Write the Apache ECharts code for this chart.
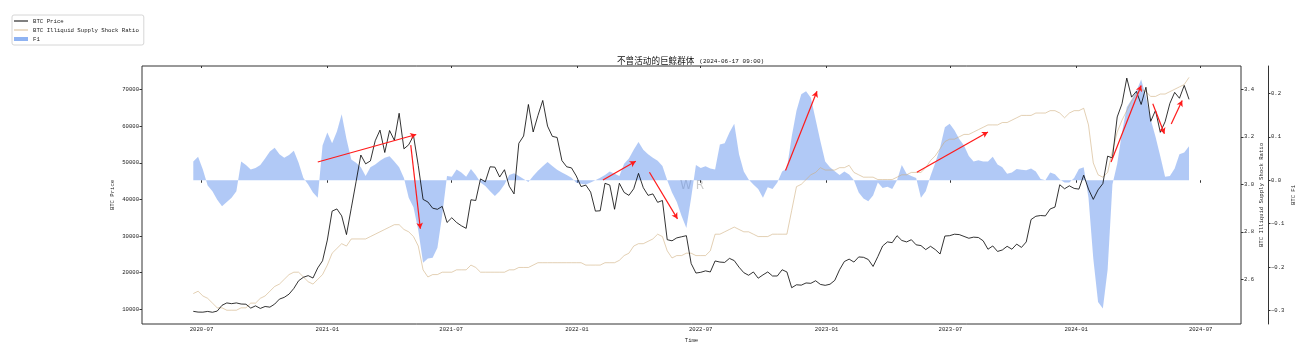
<!DOCTYPE html>
<html>
<head>
<meta charset="utf-8">
<script src="https://cdn.jsdelivr.net/npm/echarts@6/dist/echarts.min.js"></script>
<style>
html,body{margin:0;padding:0;background:#fff;}
#chart{width:1306px;height:352px;}
</style>
</head>
<body>
<div id="chart"></div>
<script>
// ---------------- DATA ----------------
const startDate = '2020-06-19';
const stepDays = 7;

const btcPrice = [
  9450, 9250, 9230, 9430, 9200, 9530, 11100, 11750, 11550, 11750,
  11450, 11400, 10340, 10950, 10250, 10780, 10600, 11430, 12800, 13270,
  14150, 15700, 17800, 18750, 19200, 18540, 21300, 23250, 28900, 36800,
  37400, 35500, 30400, 37600, 44800, 52100, 49700, 50500, 56000, 58900,
  52800, 58800, 56100, 63500, 53800, 54900, 57400, 49200, 40000, 39300,
  37600, 37300, 38100, 33700, 35000, 33700, 32800, 32100, 39900, 39700,
  45600, 44800, 48900, 48800, 46100, 48100, 43600, 41500, 55300, 57300,
  65900, 58400, 62900, 67000, 60000, 57200, 56900, 50600, 48900, 48600,
  46400, 43500, 43900, 42000, 36800, 36900, 44400, 43900, 37300, 44400,
  41900, 41100, 42900, 47100, 43200, 41100, 41500, 39200, 39700, 29000,
  28700, 29500, 29800, 30100, 22500, 19900, 20100, 20500, 20200, 23200,
  22900, 22800, 23900, 23300, 21500, 20000, 19300, 20200, 18500, 19400,
  20200, 19100, 19100, 20800, 20200, 15900, 16700, 16600, 17200, 17100,
  17800, 16800, 16550, 16850, 17900, 20800, 23050, 23700, 22900, 24300,
  24200, 23600, 21700, 24400, 27300, 28400, 28200, 30100, 28800, 28400,
  29000, 27600, 27400, 26300, 27200, 26300, 25100, 30000, 30100, 30500,
  30400, 29900, 29400, 29700, 29600, 28700, 26400, 27300, 25800, 26200,
  27200, 26400, 27800, 26900, 28400, 34500, 35400, 35600, 35500, 37400,
  37900, 44000, 42900, 43700, 43000, 42800, 46600, 42800, 40000, 42600,
  44300, 51800, 51300, 62500, 66100, 73100, 67900, 69500, 65900, 70600,
  61300, 64300, 58300, 61200, 66200, 69200, 67600, 71100, 67300
];

const shockRatio = [
  2.54, 2.55, 2.53, 2.52, 2.50, 2.48, 2.48, 2.47, 2.47, 2.47,
  2.48, 2.48, 2.50, 2.50, 2.52, 2.53, 2.55, 2.57, 2.58, 2.60,
  2.62, 2.63, 2.63, 2.61, 2.59, 2.58, 2.60, 2.62, 2.66, 2.71,
  2.73, 2.75, 2.74, 2.77, 2.77, 2.77, 2.77, 2.78, 2.79, 2.80,
  2.81, 2.82, 2.83, 2.83, 2.81, 2.80, 2.78, 2.74, 2.64, 2.61,
  2.62, 2.62, 2.63, 2.63, 2.63, 2.64, 2.64, 2.64, 2.66, 2.65,
  2.63, 2.63, 2.63, 2.63, 2.63, 2.63, 2.64, 2.64, 2.65, 2.65,
  2.65, 2.66, 2.67, 2.67, 2.67, 2.67, 2.67, 2.67, 2.67, 2.67,
  2.67, 2.67, 2.66, 2.66, 2.66, 2.66, 2.67, 2.67, 2.67, 2.68,
  2.70, 2.71, 2.74, 2.75, 2.75, 2.76, 2.77, 2.79, 2.78, 2.72,
  2.69, 2.70, 2.70, 2.71, 2.71, 2.70, 2.70, 2.70, 2.72, 2.79,
  2.79, 2.80, 2.81, 2.82, 2.81, 2.80, 2.80, 2.79, 2.78, 2.78,
  2.78, 2.79, 2.79, 2.79, 2.79, 2.89, 2.99, 3.00, 3.02, 3.04,
  3.05, 3.07, 3.06, 3.06, 3.06, 3.07, 3.07, 3.08, 3.05, 3.04,
  3.03, 3.03, 3.03, 3.02, 3.02, 3.02, 3.02, 3.03, 3.04, 3.04,
  3.05, 3.05, 3.05, 3.07, 3.10, 3.12, 3.15, 3.18, 3.19, 3.19,
  3.20, 3.21, 3.21, 3.22, 3.23, 3.24, 3.25, 3.25, 3.25, 3.26,
  3.26, 3.27, 3.28, 3.29, 3.29, 3.29, 3.30, 3.30, 3.30, 3.31,
  3.31, 3.30, 3.28, 3.30, 3.31, 3.31, 3.32, 3.25, 3.09, 3.04,
  3.03, 3.05, 3.14, 3.22, 3.27, 3.31, 3.35, 3.38, 3.40, 3.39,
  3.37, 3.37, 3.38, 3.38, 3.39, 3.40, 3.41, 3.42, 3.45
];

const f1Values = [
  0.043, 0.054, 0.025, -0.012, -0.025, -0.045, -0.060, -0.050, -0.040, -0.025,
  0.043, 0.035, 0.025, 0.028, 0.035, 0.050, 0.066, 0.075, 0.060, 0.052,
  0.058, 0.068, 0.040, 0.005, -0.010, -0.028, -0.040, 0.080, 0.110, 0.085,
  0.112, 0.152, 0.095, 0.048, 0.040, 0.030, 0.010, 0.030, 0.036, 0.045,
  0.052, 0.055, 0.043, 0.030, 0.005, -0.040, -0.062, -0.115, -0.190, -0.180,
  -0.178, -0.155, -0.080, 0.010, 0.008, 0.025, 0.018, 0.008, 0.026, 0.012,
  -0.005, -0.013, -0.025, -0.036, -0.025, -0.010, 0.012, 0.016, 0.010, 0.003,
  -0.004, 0.010, 0.022, 0.032, 0.042, 0.033, 0.024, 0.018, 0.012, 0.006,
  -0.006, -0.008, -0.010, -0.005, 0.000, 0.006, 0.012, 0.020, 0.015, 0.010,
  0.038, 0.050, 0.070, 0.088, 0.070, 0.060, 0.052, 0.045, 0.033, 0.000,
  -0.028, -0.050, -0.082, -0.110, -0.040, 0.035, 0.028, 0.032, 0.027, 0.025,
  0.082, 0.085, 0.110, 0.130, 0.060, 0.020, 0.002, -0.010, -0.020, -0.040,
  -0.016, -0.020, -0.005, 0.020, 0.027, 0.100, 0.160, 0.198, 0.205, 0.190,
  0.140, 0.090, 0.043, 0.030, 0.021, 0.012, 0.020, 0.013, 0.000, -0.028,
  -0.042, -0.048, -0.035, -0.005, -0.018, -0.015, -0.020, 0.000, 0.035, 0.015,
  0.010, 0.005, -0.040, -0.025, 0.010, 0.040, 0.075, 0.122, 0.130, 0.115,
  0.095, 0.080, 0.056, 0.043, 0.046, 0.043, 0.043, 0.054, 0.036, 0.030,
  0.015, 0.018, 0.026, 0.024, 0.023, 0.027, 0.020, 0.003, 0.000, 0.018,
  0.014, 0.002, -0.005, -0.005, 0.005, 0.026, 0.030, -0.040, -0.180, -0.280,
  -0.295, -0.205, -0.010, 0.038, 0.110, 0.168, 0.186, 0.205, 0.232, 0.192,
  0.140, 0.100, 0.055, 0.008, 0.010, 0.027, 0.060, 0.064, 0.078
];

// annotation arrows: start and end points [date, price]
const arrowStarts = [
  ['2020-12-18', 50200], ['2021-05-03', 54800], ['2022-02-08', 45300],
  ['2022-04-17', 47400], ['2022-11-02', 47900], ['2023-05-13', 47400],
  ['2024-02-21', 50200], ['2024-04-22', 66100], ['2024-05-19', 60600]
];
const arrowEnds = [
  ['2021-05-11', 57700], ['2021-05-17', 32000], ['2022-03-28', 50400],
  ['2022-05-28', 34700], ['2022-12-18', 69500], ['2023-08-25', 58400],
  ['2024-04-05', 71100], ['2024-05-09', 57900], ['2024-06-04', 67000]
];

const xTickLabels = ['2020-07','2021-01','2021-07','2022-01','2022-07','2023-01','2023-07','2024-01','2024-07'];
const priceTicks = [10000, 20000, 30000, 40000, 50000, 60000, 70000];
const ratioTicks = [2.6, 2.8, 3.0, 3.2, 3.4];
const f1Ticks = [-0.3, -0.2, -0.1, 0.0, 0.1, 0.2];

const titleMain = '不曾活动的巨鲸群体';
const titleTime = '(2024-06-17 09:00)';

// ---------------- BUILD ----------------
function ts(s) {
  const p = s.split('-').map(Number);
  return new Date(p[0], p[1] - 1, p[2] || 1).getTime();
}
const DAY = 86400000;
const t0 = ts(startDate);
const dates = btcPrice.map((_, i) => t0 + i * stepDays * DAY);
const pair = arr => arr.map((v, i) => [dates[i], v]);
const xTickValues = xTickLabels.map(s => ts(s + '-01'));

const MONO = '"Liberation Mono", "DejaVu Sans Mono", monospace';
const TXT = '#222';
const AX = '#333';
const fs = 5.6;

function fmtDate(v) {
  const d = new Date(v);
  const m = d.getMonth() + 1;
  return d.getFullYear() + '-' + (m < 10 ? '0' + m : m);
}

const arrowData = arrowStarts.map((s, i) => [
  { coord: [ts(s[0]), s[1]] },
  { coord: [ts(arrowEnds[i][0]), arrowEnds[i][1]] }
]);

const chart = echarts.init(document.getElementById('chart'), null, { renderer: 'canvas' });

const lineIcon = 'path://M0,0H14V1H0Z';
const rectIcon = 'path://M0,0H14V4H0Z';

const xMin = ts('2020-04-05');
const xMax = ts('2024-08-29');
const nameStyle = { fontFamily: MONO, fontSize: fs, color: TXT };

const option = {
  animation: false,
  backgroundColor: '#fff',
  title: {
    text: '{a|' + titleMain + '} {b|' + titleTime + '}',
    left: 617,
    top: 52,
    padding: 0,
    textStyle: {
      fontWeight: 'normal',
      rich: {
        a: { fontFamily: '"Noto Sans CJK SC"', fontSize: 8.6, fontWeight: 'normal', color: '#111' },
        b: { fontFamily: MONO, fontSize: 6, fontWeight: 'normal', color: '#111' }
      }
    }
  },
  legend: {
    orient: 'vertical',
    left: 12,
    top: 15,
    padding: [3, 5, 3, 2],
    itemWidth: 14,
    itemHeight: 6,
    itemGap: 3,
    borderColor: '#d6d6d6',
    borderWidth: 1,
    borderRadius: 2,
    textStyle: { fontFamily: MONO, fontSize: 5.7, color: TXT },
    data: [
      { name: 'BTC Price', icon: lineIcon },
      { name: 'BTC Illiquid Supply Shock Ratio', icon: lineIcon },
      { name: 'F1', icon: rectIcon }
    ]
  },
  grid: {
    left: 142, right: 65, top: 66, bottom: 28,
    show: true, borderColor: AX, borderWidth: 1, backgroundColor: 'transparent'
  },
  xAxis: [
    {
      type: 'value',
      min: xMin,
      max: xMax,
      position: 'bottom',
      axisLine: { show: false },
      axisTick: { show: true, length: 2.5, lineStyle: { color: AX }, customValues: xTickValues },
      axisLabel: { customValues: xTickValues, formatter: fmtDate, fontFamily: MONO, fontSize: fs, color: TXT, margin: 3 },
      splitLine: { show: false },
      name: 'Time',
      nameLocation: 'middle',
      nameGap: 14,
      nameMoveOverlap: false,
      nameTextStyle: nameStyle
    },
    {
      type: 'value',
      min: xMin,
      max: xMax,
      position: 'top',
      axisLine: { show: false },
      axisTick: { show: true, inside: true, length: 2, lineStyle: { color: AX }, customValues: xTickValues },
      axisLabel: { show: false, customValues: xTickValues },
      splitLine: { show: false }
    }
  ],
  yAxis: [
    {
      type: 'value',
      position: 'left',
      min: 6000,
      max: 76400,
      axisLine: { show: false },
      axisTick: { show: true, length: 2.5, lineStyle: { color: AX }, customValues: priceTicks },
      axisLabel: { customValues: priceTicks, formatter: v => String(v), fontFamily: MONO, fontSize: fs, color: TXT, margin: 3 },
      splitLine: { show: false },
      name: 'BTC Price',
      nameLocation: 'middle',
      nameRotate: 90,
      nameGap: 26,
      nameMoveOverlap: false,
      nameTextStyle: nameStyle
    },
    {
      type: 'value',
      position: 'right',
      min: 2.412,
      max: 3.498,
      axisLine: { show: false },
      axisTick: { show: true, length: 2.5, lineStyle: { color: AX }, customValues: ratioTicks },
      axisLabel: { customValues: ratioTicks, formatter: v => v.toFixed(1), fontFamily: MONO, fontSize: fs, color: TXT, margin: 3 },
      splitLine: { show: false },
      name: 'BTC Illiquid Supply Shock Ratio',
      nameLocation: 'middle',
      nameRotate: 90,
      nameGap: 17.5,
      nameMoveOverlap: false,
      nameTextStyle: nameStyle
    },
    {
      type: 'value',
      position: 'right',
      offset: 27,
      min: -0.3306,
      max: 0.2628,
      axisLine: { show: true, lineStyle: { color: AX, width: 1 } },
      axisTick: { show: true, length: 2.5, lineStyle: { color: AX }, customValues: f1Ticks },
      axisLabel: { customValues: f1Ticks, formatter: v => v.toFixed(1).replace('-', '\u2212'), fontFamily: MONO, fontSize: fs, color: TXT, margin: 3 },
      splitLine: { show: false },
      name: 'BTC F1',
      nameLocation: 'middle',
      nameRotate: 90,
      nameGap: 23,
      nameMoveOverlap: false,
      nameTextStyle: nameStyle
    }
  ],
  graphic: [
    {
      type: 'text',
      left: 680,
      top: 180,
      silent: true,
      style: { text: 'W R', fill: '#c9c9c9', font: '12px "DejaVu Sans"' }
    }
  ],
  series: [
    {
      name: 'F1',
      type: 'line',
      xAxisIndex: 0,
      yAxisIndex: 2,
      data: pair(f1Values),
      showSymbol: false,
      symbol: 'none',
      color: 'rgba(100,149,237,0.72)',
      lineStyle: { width: 0 },
      areaStyle: { color: 'rgba(100,149,237,0.72)', origin: 0 },
      z: 1
    },
    {
      name: 'BTC Illiquid Supply Shock Ratio',
      type: 'line',
      xAxisIndex: 0,
      yAxisIndex: 1,
      data: pair(shockRatio),
      showSymbol: false,
      symbol: 'none',
      color: 'rgba(205,170,120,0.8)',
      lineStyle: { color: 'rgba(205,170,120,0.8)', width: 0.7 },
      z: 2
    },
    {
      name: 'BTC Price',
      type: 'line',
      xAxisIndex: 0,
      yAxisIndex: 0,
      data: pair(btcPrice),
      showSymbol: false,
      symbol: 'none',
      color: '#000',
      lineStyle: { color: '#000', width: 0.8 },
      z: 3,
      markLine: {
        silent: true,
        symbol: ['none', 'arrow'],
        symbolSize: [5, 6],
        label: { show: false },
        lineStyle: { color: '#ff1a1a', width: 1.2, type: 'solid' },
        emphasis: { disabled: true },
        data: arrowData
      }
    }
  ]
};

chart.setOption(option);
</script>
</body>
</html>
